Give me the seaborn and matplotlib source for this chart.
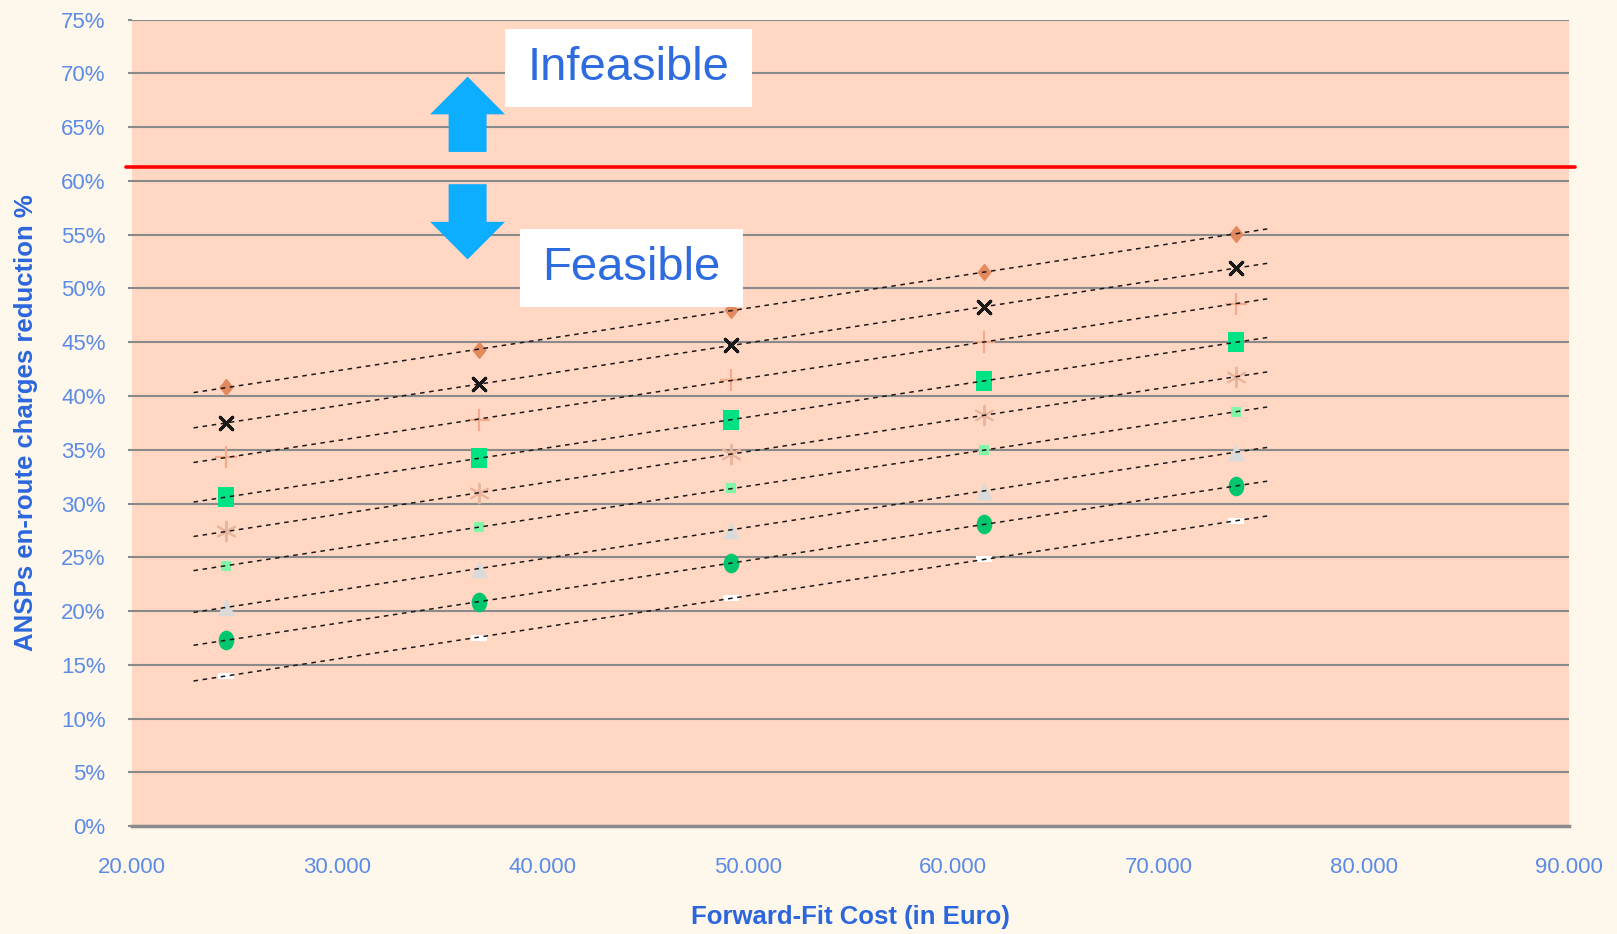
import numpy as np
import pandas as pd
import matplotlib
matplotlib.use("Agg")
import matplotlib.pyplot as plt
import matplotlib.patches as mpatches
from matplotlib.path import Path
from matplotlib.ticker import FuncFormatter, MultipleLocator
import seaborn as sns

# forward-fit cost (Euro) and reduction (%) for each scenario
cost = [24600, 36900, 49200, 61500, 73800]
s1 = [40.8, 44.3, 48.0, 51.5, 55.1]
s2 = [37.5, 41.1, 44.7, 48.3, 51.9]
s3 = [34.3, 37.8, 41.5, 45.0, 48.6]
s4 = [30.6, 34.2, 37.8, 41.4, 45.0]
s5 = [27.4, 31.0, 34.6, 38.2, 41.8]
s6 = [24.2, 27.8, 31.4, 35.0, 38.5]
s7 = [20.4, 23.9, 27.5, 31.2, 34.8]
s8 = [17.3, 20.8, 24.5, 28.1, 31.6]
s9 = [14.0, 17.5, 21.2, 24.8, 28.4]
limit = 61.3

sns.set_style("white")
plt.rcParams["font.family"] = ["Liberation Sans", "DejaVu Sans"]

# custom marker shapes
rect_tall = Path([(-0.75, -1), (0.75, -1), (0.75, 1), (-0.75, 1), (-0.75, -1)],
                 [1, 2, 2, 2, 79])
rect_flat = Path([(-1, -0.4), (1, -0.4), (1, 0.4), (-1, 0.4), (-1, -0.4)],
                 [1, 2, 2, 2, 79])
diamond = Path([(0, -1), (0.8, 0), (0, 1), (-0.8, 0), (0, -1)], [1, 2, 2, 2, 79])
circ = Path.unit_circle()
ellipse = Path(circ.vertices * [0.8, 1.0], circ.codes)

series = [
    (s1, diamond, "#E3895E", 130, 1.0),
    (s2, (4, 2, 45), "#1a1a1a", 160, 2.2),
    (s3, "+", "#F7A88A", 230, 1.5),
    (s4, rect_tall, "#00E384", 220, 0),
    (s5, (6, 2, 0), "#E9B49C", 200, 1.4),
    (s6, "s", "#7FF5A8", 55, 0),
    (s7, "^", "#DADADA", 160, 0),
    (s8, ellipse, "#00C66E", 200, 0),
    (s9, rect_flat, "#FFFFFF", 120, 0),
]

fig = plt.figure(figsize=(16.17, 9.34), dpi=100, facecolor="#FEF7EC")
ax = fig.add_axes([0.0816, 0.1156, 0.8887, 0.8633])
ax.set_facecolor("#FFD7C2")

xfit = np.array([23000, 75300])
for vals, mk, col, sz, lw in series:
    df = pd.DataFrame({"cost": cost, "red": vals})
    sns.scatterplot(data=df, x="cost", y="red", marker=mk, color=col, s=sz,
                    linewidth=lw, edgecolor=col, ax=ax, zorder=4)
    k, b = np.polyfit(cost, vals, 1)
    ax.plot(xfit, k * xfit + b, color="#1a1a1a", lw=1.1,
            linestyle=(0, (3, 3)), zorder=5)

# feasibility limit
ax.plot([19700, 90300], [limit, limit], color="#FF0000", lw=2.6,
        clip_on=False, zorder=6)

# arrows
for y0, dy in [(62.7, 7.0), (59.7, -7.0)]:
    ax.add_patch(mpatches.FancyArrow(36350, y0, 0, dy, width=1850,
                                     head_width=3650, head_length=3.5,
                                     length_includes_head=True,
                                     color="#0DAEFF", lw=0, zorder=7))

# labels in white boxes
for txt, x0, x1, y0, y1 in [("Infeasible", 38170, 50200, 66.9, 74.1),
                            ("Feasible", 38900, 49750, 48.3, 55.5)]:
    ax.add_patch(mpatches.Rectangle((x0, y0), x1 - x0, y1 - y0,
                                    facecolor="white", lw=0, zorder=7))
    ax.text((x0 + x1) / 2, (y0 + y1) / 2, txt, ha="center", va="center",
            fontsize=34, color="#2E6BDE", zorder=8)

ax.set_xlim(20000, 90000)
ax.set_ylim(0, 75)
ax.xaxis.set_major_locator(MultipleLocator(10000))
ax.yaxis.set_major_locator(MultipleLocator(5))
ax.xaxis.set_major_formatter(FuncFormatter(lambda v, p: f"{v:,.0f}".replace(",", ".")))
ax.yaxis.set_major_formatter(FuncFormatter(lambda v, p: f"{v:.0f}%"))
ax.grid(axis="y", color="#8A8A8A", lw=1.5)
ax.grid(axis="x", visible=False)
ax.set_axisbelow(True)
for s in ["top", "right", "left"]:
    ax.spines[s].set_visible(False)
ax.spines["bottom"].set_color("#8A8A8A")
ax.spines["bottom"].set_linewidth(2.5)
ax.tick_params(axis="x", length=8, width=2, color="#8A8A8A", pad=14,
               labelsize=16, labelcolor="#5C8BE6")
ax.tick_params(axis="y", length=3, width=1.5, color="#8A8A8A", pad=16,
               labelsize=16, labelcolor="#5C8BE6", left=True)

lab = dict(fontsize=18.5, fontweight="bold", color="#2B66DC",
           family=["Liberation Sans Narrow", "Liberation Sans", "DejaVu Sans"])
ax.set_xlabel("Forward-Fit Cost (in Euro)", va="center", **lab)
ax.set_ylabel("ANSPs en-route charges reduction %", va="center", **lab)
ax.xaxis.set_label_coords(0.5, -0.113)
ax.yaxis.set_label_coords(-0.074, 0.5)

fig.savefig("out.png", dpi=100, facecolor=fig.get_facecolor())
